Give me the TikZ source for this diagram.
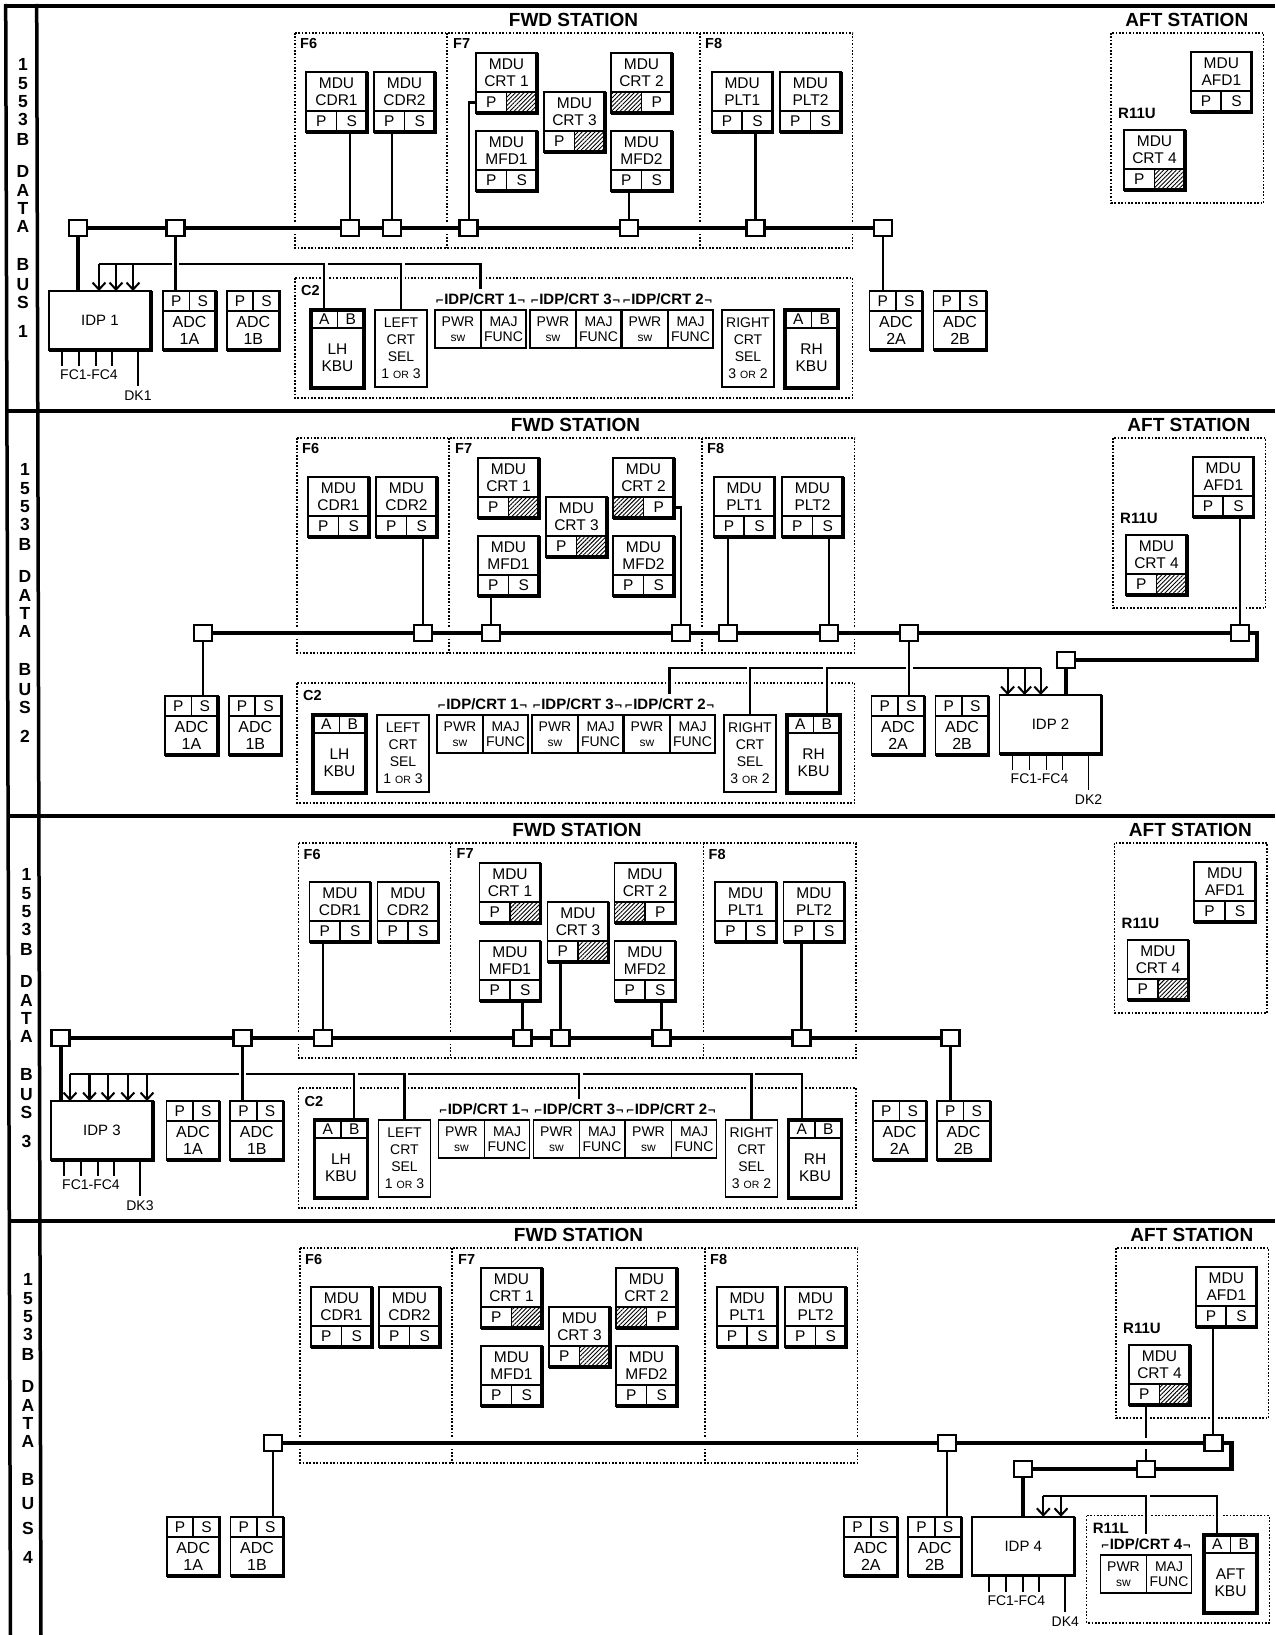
\documentclass[tikz,border=0pt]{standalone}
\usepackage{fontspec}
\setmainfont{Liberation Sans}
\newfontfamily\tickfont{DejaVu Sans}
\usetikzlibrary{arrows.meta,patterns.meta}

\newcommand{\unitfont}{\fontsize{15.5}{17}\selectfont}
\newcommand{\adcfont}{\fontsize{16}{16.5}\selectfont}
\newcommand{\cellfont}{\fontsize{14}{14.5}\selectfont}
\newcommand{\selfont}{\fontsize{14}{17}\selectfont}
\newcommand{\smallfont}{\fontsize{10.5}{11}\selectfont}
\newcommand{\swfont}{\fontsize{12}{12}\selectfont}
\newcommand{\tickmarkfont}{\tickfont\fontsize{10.5}{10.5}\selectfont}

\tikzset{
  unit/.style={draw,fill=white,line width=1.7pt,inner sep=0pt,outer sep=0pt,anchor=north west,align=center,font=\unitfont},
  port/.style={unit},
  adcbody/.style={unit,font=\adcfont},
  cell/.style={unit,font=\cellfont,minimum height=38pt},
  selbody/.style={unit,font=\selfont,minimum width=52pt,minimum height=77pt},
  heavy/.style={line width=3.2pt},
  bay/.style={line width=1.5pt,dash pattern=on 1.7pt off 1.7pt},
  baylabel/.style={inner sep=0pt,anchor=west,font=\fontsize{14.5}{16}\selectfont\bfseries},
  baytitle/.style={inner sep=0pt,font=\fontsize{19}{21}\selectfont\bfseries},
  coltext/.style={inner sep=0pt,font=\fontsize{17.5}{19}\selectfont\bfseries},
  crtlabel/.style={inner sep=0pt,minimum height=20pt,font=\fontsize{15}{16}\selectfont\bfseries},
  stublabel/.style={inner sep=0pt,font=\fontsize{14}{15}\selectfont},
  junc/.style={draw,fill=white,line width=2.4pt,inner sep=0pt,outer sep=0pt,minimum width=18pt,minimum height=16pt},
  bus/.style={line width=4pt,preaction={draw=white,line width=11pt,shorten >=2pt,shorten <=2pt}},
  feeder/.style={line width=4pt},
  wire/.style={line width=2.2pt,preaction={draw=white,line width=7pt,shorten >=1.6pt,shorten <=1.6pt}},
  stub/.style={line width=1.8pt},
  feed/.style={line width=2.2pt,-{Straight Barb[length=7pt,width=13pt,line width=2pt]}},
  frame/.style={line width=3.5pt},
  hatch/.style={pattern={Lines[angle=45,distance=3pt,line width=0.9pt]}}
}

\newcommand{\heavyedge}[3]{\draw[heavy] (#1) -- (#2) -- (#3);}
\newcommand{\busrun}[2]{\foreach \b [remember=\b as \a (initially #1)] in {#2} {\draw[bus] (\a) -- (\b);}}

% name, x, y, second line, left port, right port
\newcommand{\mdubox}[6]{%
  \node[unit,minimum width=61pt,minimum height=39pt] (#1) at (#2,#3) {MDU\\#4};
  \node[port,minimum width=30.5pt,minimum height=21pt] (#1L) at (#2,#3+39) {#5};
  \node[port,minimum width=30.5pt,minimum height=21pt] (#1R) at (#2+30.5,#3+39) {#6};
  \heavyedge{#1.north east}{#1R.south east}{#1L.south west}}
\newcommand{\hatchcell}[1]{\path[hatch] (#1.south west) rectangle (#1.north east);}

% name, x, y, second line
\newcommand{\adcbox}[4]{%
  \node[port,minimum width=26.5pt,minimum height=20pt] (#1L) at (#2,#3) {P};
  \node[port,minimum width=26.5pt,minimum height=20pt] (#1R) at (#2+26.5,#3) {S};
  \node[adcbody,minimum width=53pt,minimum height=39pt] (#1) at (#2,#3+20) {ADC\\#4};
  \heavyedge{#1R.north east}{#1.south east}{#1.south west}}
% prefix, y, x of the four boxes
\newcommand{\adcrow}[4]{%
  \adcbox{#1adc1a}{#3}{#2}{1A}
  \adcbox{#1adc1b}{#3+63.8}{#2}{1B}
  \adcbox{#1adc2a}{#4}{#2}{2A}
  \adcbox{#1adc2b}{#4+64}{#2}{2B}}

% name, x, y, label
\newcommand{\kbubox}[4]{%
  \node[port,minimum width=26.5pt,minimum height=18pt] (#1L) at (#2,#3) {A};
  \node[port,minimum width=26.5pt,minimum height=18pt] (#1R) at (#2+26.5,#3) {B};
  \node[unit,minimum width=53pt,minimum height=60pt] (#1) at (#2,#3+18) {#4\\KBU};
  \draw[heavy] (#1L.north west) rectangle (#1.south east);}

% name, x, y, first line, choice
\newcommand{\selbox}[5]{%
  \node[selbody] (#1) at (#2,#3) {#4\\CRT\\SEL\\#5};}
\newcommand{\orword}{{\smallfont OR}}

% name, x, y, number
\newcommand{\idpcrt}[4]{%
  \node[cell,minimum width=46pt] (#1) at (#2,#3) {PWR\\{\swfont sw}};
  \node[cell,minimum width=45pt] (#1F) at (#2+46,#3) {MAJ\\FUNC};
  \node[crtlabel] (#1lab) at (#2+45.5,#3-11) {{\tickmarkfont ⌐}IDP/CRT #4{\tickmarkfont ¬}};}

% name, x, y, number, stub offset
\newcommand{\idpbox}[5]{%
  \node[unit,font=\fontsize{15}{17}\selectfont,minimum width=102pt,minimum height=59pt] (#1) at (#2,#3) {IDP #4};
  \foreach \off in {13,30,47,63} {\draw[stub] (#2+\off+#5,#3+59) -- (#2+\off+#5,#3+75);}
  \draw[stub] (#2+89+#5,#3+59) -- (#2+89+#5,#3+95);
  \heavyedge{#1.north east}{#1.south east}{#1.south west}
  \node[stublabel] (#1fc) at (#2+40+#5,#3+84) {FC1-FC4};
  \node[stublabel] (#1dk) at (#2+89+#5,#3+105) {DK#4};}

% prefix, bus number, y of U, S and the number in the left column
\newcommand{\stationbays}[5]{%
  \draw[bay] (295,33) rectangle (852.6,248);
  \draw[bay] (447,33) -- (447,248);
  \draw[bay] (700,33) -- (700,248);
  \draw[bay] (1111,33) rectangle (1263.7,203);
  \node[baytitle] (#1fwd) at (573.5,20) {FWD STATION};
  \node[baytitle] (#1aft) at (1186.8,20) {AFT STATION};
  \node[baylabel] (#1f6) at (300,44) {F6};
  \node[baylabel] (#1f7) at (453,44) {F7};
  \node[baylabel] (#1f8) at (705,44) {F8};
  \node[baylabel,font=\fontsize{15}{16}\selectfont\bfseries] (#1r11u) at (1118,113) {R11U};
  % bus name down the left column
  \foreach \ch/\yy in {1/64,5/84,5/102,3/119,B/139,D/171,A/190,T/208,A/226,B/264,U/#3,S/#4} {
    \node[coltext] (#1col\yy) at (23,\yy) {\ch};}
  \node[coltext] (#1colnum) at (23,#5) {#2};
  \mdubox{#1cdr1}{306}{72}{CDR1}{P}{S}
  \mdubox{#1cdr2}{374}{72}{CDR2}{P}{S}
  \mdubox{#1crt1}{476}{53}{CRT 1}{P}{}
  \hatchcell{#1crt1R}
  \mdubox{#1mfd1}{476}{131}{MFD1}{P}{S}
  \mdubox{#1crt3}{544}{92}{CRT 3}{P}{}
  \hatchcell{#1crt3R}
  \mdubox{#1crt2}{611}{53}{CRT 2}{}{P}
  \hatchcell{#1crt2L}
  \mdubox{#1mfd2}{611}{131}{MFD2}{P}{S}
  \mdubox{#1plt1}{711.7}{72}{PLT1}{P}{S}
  \mdubox{#1plt2}{780}{72}{PLT2}{P}{S}
  \mdubox{#1afd1}{1190.8}{52}{AFD1}{P}{S}
  \mdubox{#1crt4}{1124}{130}{CRT 4}{P}{}
  \hatchcell{#1crt4R}}

\newcommand{\ctwobay}[1]{%
  \draw[bay] (295,278) rectangle (852.6,398);
  \node[baylabel] (#1c2) at (301,291) {C2};
  \kbubox{#1lkbu}{311}{310}{LH}
  \selbox{#1lsel}{375}{310}{LEFT}{1 \orword{} 3}
  \idpcrt{#1blk1}{435}{310}{1}
  \idpcrt{#1blk3}{530}{310}{3}
  \idpcrt{#1blk2}{622}{310}{2}
  \selbox{#1rsel}{722}{310}{RIGHT}{3 \orword{} 2}
  \kbubox{#1rkbu}{785}{310}{RH}}

\begin{document}
\begin{tikzpicture}[x=1pt,y=-1pt]
  \useasboundingbox[fill=white] (0,0) rectangle (1275,1635);

  % Frame
  \draw[frame] (5.7,6) -- (1275,6);
  \draw[frame] (6,411) -- (1275,411);
  \draw[frame] (7.5,816) -- (1275,816);
  \draw[frame] (9,1221) -- (1275,1221);
  \draw[frame] (5.7,4) -- (10.5,1635);
  \draw[frame] (36.7,4) -- (41,1635);

  % Bus 1
  \begin{scope}[shift={(0,0)}]
    \stationbays{a}{1}{285}{302}{331}
    \adcrow{a}{291}{163}{869.6}
    \ctwobay{a}
    \idpbox{aidp}{49}{291}{1}{0}
    \node[junc] (aj1) at (78,228) {};
    \node[junc] (aj2) at (175.5,228) {};
    \node[junc] (aj3) at (350,228) {};
    \node[junc] (aj4) at (392,228) {};
    \node[junc] (aj5) at (468.6,228) {};
    \node[junc] (aj6) at (629,228) {};
    \node[junc] (aj7) at (755.4,228) {};
    \node[junc] (aj8) at (883,228) {};
    % Selector lines
    \coordinate (awire) at (99,264);
    \coordinate (awa) at (alkbuL.north |- awire);
    \coordinate (awb) at (alsel.north |- awire);
    \draw[wire] (awb) -| (ablk1lab.north);
    \draw[wire] (awa) -| (alsel.north);
    \draw[wire] (awire) -| (alkbuL.north);
    \foreach \x in {99,116,133} {\draw[feed] (\x,264) -- (\x,264 |- aidp.north);}
    % Stubs to the bus
    \draw[feeder] (aj1) -- (aj1 |- aidp.north);
    \draw[wire] (aj2) -- (aj2 |- aadc1aL.north);
    \draw[wire] (aj3) -- (aj3 |- acdr1R.south);
    \draw[wire] (aj4) -- (aj4 |- acdr2L.south);
    \draw[wire] (aj5) |- (acrt1L.west);
    \draw[wire] (aj6) -- (aj6 |- amfd2L.south);
    \draw[wire] (aj7) -- (aj7 |- aplt1R.south);
    \draw[wire] (aj8) -- (aj8 |- aadc2aL.north);
    \busrun{aj1}{aj2,aj3,aj4,aj5,aj6,aj7,aj8}
  \end{scope}

  % Bus 2
  \begin{scope}[shift={(2,405)}]
    \stationbays{b}{2}{285}{302}{331}
    \adcrow{b}{291}{163}{869.6}
    \ctwobay{b}
    \idpbox{bidp}{997.5}{290}{2}{0}
    \node[junc] (bj1) at (201,228) {};
    \node[junc] (bj2) at (421,228) {};
    \node[junc] (bj3) at (489,228) {};
    \node[junc] (bj4) at (679,228) {};
    \node[junc] (bj5) at (726,228) {};
    \node[junc] (bj6) at (827,228) {};
    \node[junc] (bj7) at (907,228) {};
    \node[junc] (bj8) at (1238,228) {};
    \node[junc] (bj9) at (1064,255) {};
    \coordinate (bbend) at (1255,255);
    % Selector lines
    \coordinate (bwire) at (1038.8,263);
    \coordinate (bwa) at (brkbuR.north |- bwire);
    \coordinate (bwb) at (brsel.north |- bwire);
    \draw[wire] (bwb) -| (bblk2lab.north);
    \draw[wire] (bwa) -| (brsel.north);
    \draw[wire] (bwire) -| (brkbuR.north);
    \foreach \x in {1005.6,1022.6,1038.8} {\draw[feed] (\x,263) -- (\x,263 |- bidp.north);}
    % Stubs to the bus
    \draw[feeder] (bj9) -- (bj9 |- bidp.north);
    \draw[wire] (bj1) -- (bj1 |- badc1aR.north);
    \draw[wire] (bj2) -- (bj2 |- bcdr2R.south);
    \draw[wire] (bj3) -- (bj3 |- bmfd1L.south);
    \draw[wire] (bj4) |- (bcrt2R.east);
    \draw[wire] (bj5) -- (bj5 |- bplt1L.south);
    \draw[wire] (bj6) -- (bj6 |- bplt2R.south);
    \draw[wire] (bj7) -- (bj7 |- badc2aR.north);
    \draw[wire] (bj8) -- (bj8 |- bafd1R.south);
    \busrun{bj1}{bj2,bj3,bj4,bj5,bj6,bj7,bj8}
    \draw[feeder,line width=4.5pt] (bj8) -| (bbend) -- (bj9);
  \end{scope}

  % Bus 3
  \begin{scope}[shift={(3.5,810)}]
    \stationbays{c}{3}{285}{302}{331}
    \adcrow{c}{291}{163}{869.6}
    \ctwobay{c}
    \idpbox{cidp}{47.5}{291}{3}{0}
    \node[junc] (cj1) at (57,228) {};
    \node[junc] (cj2) at (239,228) {};
    \node[junc] (cj3) at (319.5,228) {};
    \node[junc] (cj4) at (519,228) {};
    \node[junc] (cj5) at (557,228) {};
    \node[junc] (cj6) at (658,228) {};
    \node[junc] (cj7) at (798,228) {};
    \node[junc] (cj8) at (947,228) {};
    % Selector lines
    \coordinate (cwire) at (66.5,264);
    \coordinate (cwa) at (clkbuR.north |- cwire);
    \coordinate (cwb) at (clsel.north |- cwire);
    \coordinate (cwc) at (cblk3lab.north |- cwire);
    \coordinate (cwd) at (crsel.north |- cwire);
    \draw[wire] (cwd) -| (crkbuL.north);
    \draw[wire] (cwc) -| (crsel.north);
    \draw[wire] (cwb) -| (cblk3lab.north);
    \draw[wire] (cwa) -| (clsel.north);
    \draw[wire] (cwire) -| (clkbuR.north);
    \foreach \x in {66.5,86,104.5,124.3,143.5} {\draw[feed] (\x,264) -- (\x,264 |- cidp.north);}
    % Stubs to the bus
    \draw[feeder] (cj1) -- (cj1 |- cidp.north);
    \draw[wire] (cj2) -- (cj2 |- cadc1bL.north);
    \draw[wire] (cj3) -- (cj3 |- ccdr1L.south);
    \draw[wire] (cj4) -- (cj4 |- cmfd1R.south);
    \draw[wire] (cj5) -- (cj5 |- ccrt3L.south);
    \draw[wire] (cj6) -- (cj6 |- cmfd2R.south);
    \draw[wire] (cj7) -- (cj7 |- cplt2L.south);
    \draw[wire] (cj8) -- (cj8 |- cadc2bL.north);
    \busrun{cj1}{cj2,cj3,cj4,cj5,cj6,cj7,cj8}
  \end{scope}

  % Bus 4
  \begin{scope}[shift={(5,1215)}]
    \stationbays{d}{4}{289}{313}{342}
    \adcrow{d}{302}{161.7}{839.3}
    \idpbox{didp}{967.3}{301.7}{4}{4}
    % R11L
    \draw[bay] (1081.7,300.7) rectangle (1264.3,408);
    \node[baylabel,font=\fontsize{15}{16}\selectfont\bfseries] (dr11l) at (1087.7,313) {R11L};
    \idpcrt{dblk4}{1095.5}{340}{4}
    \kbubox{dkbu}{1199}{320}{AFT}
    \node[junc] (dj1) at (267.7,228) {};
    \node[junc] (dj2) at (941.7,228) {};
    \node[junc] (dj3) at (1208.3,228) {};
    \node[junc] (dj4) at (1017.7,254) {};
    \node[junc] (dj5) at (1140.7,254) {};
    \coordinate (dbend) at (1226.7,254);
    % Selector lines
    \coordinate (dwire) at (1038.3,281);
    \coordinate (dwa) at (dblk4lab.north |- dwire);
    \draw[wire] (dwa) -| (dkbuL.north);
    \draw[wire] (dwire) -| (dblk4lab.north);
    \foreach \x in {1038.3,1056} {\draw[feed] (\x,281) -- (\x,281 |- didp.north);}
    % Stubs to the bus
    \draw[feeder] (dj4) -- (dj4 |- didp.north);
    \draw[wire] (dj1) -- (dj1 |- dadc1bR.north);
    \draw[wire] (dj2) -- (dj2 |- dadc2bR.north);
    \draw[wire] (dj3) -- (dj3 |- dafd1L.south);
    \draw[wire] (dj5) -- (dj5 |- dcrt4L.south);
    \busrun{dj1}{dj2,dj3}
    \draw[feeder,line width=4.5pt] (dj3) -| (dbend) -- (dj5) -- (dj4);
  \end{scope}
\end{tikzpicture}
\end{document}
